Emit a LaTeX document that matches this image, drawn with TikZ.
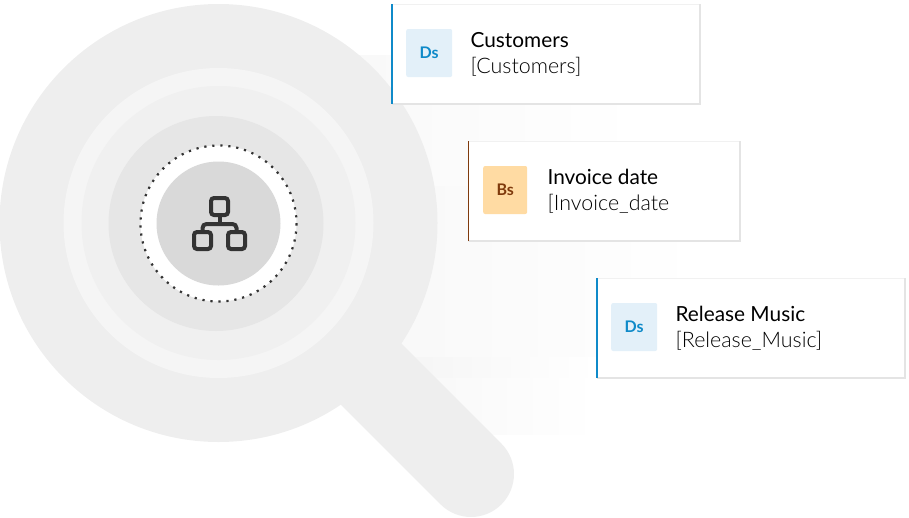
\documentclass[tikz,border=0pt]{standalone}
\usepackage{fontspec}
\setmainfont{Lato}
\newfontfamily\lightfont{Lato Light}
\usetikzlibrary{positioning}

\definecolor{lensgray}{HTML}{EEEEEE}
\definecolor{ringgray}{HTML}{F5F5F5}
\definecolor{bandgray}{HTML}{F0F0F0}
\definecolor{midgray}{HTML}{E6E6E6}
\definecolor{coregray}{HTML}{D9D9D9}
\definecolor{icongray}{HTML}{333333}
\definecolor{edgegray}{HTML}{F1F1F1}
\definecolor{shadegray}{HTML}{E4E4E4}
\definecolor{dsblue}{HTML}{0F8AC9}
\definecolor{dsfill}{HTML}{E3F0F9}
\definecolor{bsbrown}{HTML}{7F3A0C}
\definecolor{bsfill}{HTML}{FFDBA3}

\newcommand{\subline}[1]{{\fontsize{21.4}{26}\selectfont\lightfont #1}}

\begin{document}
\begin{tikzpicture}[x=1pt,y=-1pt,
    card/.style={fill=white,draw=edgegray,line width=1pt,inner sep=0pt,outer sep=0pt,minimum height=100pt,anchor=north west},
    badge/.style={rounded corners=2pt,inner sep=0pt,minimum height=48pt,yshift=1pt,font=\fontsize{16}{16}\selectfont\bfseries},
    ds/.style={badge,fill=dsfill,text=dsblue,minimum width=46pt},
    bs/.style={badge,fill=bsfill,text=bsbrown,minimum width=44pt},
    cardtext/.style={inner sep=0pt,align=left,yshift=-1.5pt,font=\fontsize{20.8}{26}\selectfont},
    iconbox/.style={draw=icongray,line width=4pt,rounded corners=3pt,inner sep=0pt,minimum size=17pt},
    iconline/.style={draw=icongray,line width=4pt},
    cardbar/.style={line width=1.8pt},
    cardedge/.style={draw=shadegray,line width=1.4pt},
    fade/.style={left color=#1,right color=white,draw=none}]

  \useasboundingbox (0,0) rectangle (909,517);

  % faint bands behind the cards
  \shade[fade=black!2.5] (345,55) rectangle (640,186);
  \shade[fade=black!3] (345,186) rectangle (700,357);
  \shade[fade=black!4] (400,357) rectangle (597,378);
  \shade[fade=black!3] (400,378) rectangle (597,434);

  % magnifying glass
  \coordinate (lens) at (218.5,223);
  \coordinate (grip) at (330,333);
  \coordinate (gripend) at (471,474);
  \draw[lensgray,line width=86pt,line cap=round] (grip) -- (gripend);
  \fill[lensgray] (lens) circle (219);
  \fill[ringgray] (lens) circle (155);
  \fill[bandgray] (lens) circle (137);
  \fill[midgray] (216,223.5) circle (107.5);
  \fill[white] (218.5,223.5) circle (78);
  \draw[icongray,line width=2.2pt,dash pattern=on 2.2pt off 5.83pt] (218.5,223.5) circle (78);
  \fill[coregray] (218.5,223.5) circle (62);

  % icon
  \node[iconbox] (icontop) at (219.5,206.5) {};
  \node[iconbox] (iconleft) at (202.5,240.5) {};
  \node[iconbox] (iconright) at (236.5,240.5) {};
  \coordinate (iconbus) at (219.5,224);
  \draw[iconline] (icontop.south) -- (iconbus);
  \draw[iconline,rounded corners=4pt] (iconleft.north) |- (iconbus) -| (iconright.north);

  % cards
  \node[card,minimum width=308pt] (customers) at (392,4) {};
  \node[ds,right=14pt of customers.west] (customersbadge) {Ds};
  \node[cardtext,right=18pt of customersbadge] (customerstext) {Customers\\\subline{[Customers]}};
  \draw[cardedge] (customers.north east) -- (customers.south east) -- (customers.south west);
  \draw[dsblue,cardbar] (customers.north west) -- (customers.south west);

  \node[card,minimum width=271.5pt] (invoice) at (468.5,141) {};
  \node[bs,right=14.5pt of invoice.west] (invoicebadge) {Bs};
  \node[cardtext,right=20pt of invoicebadge] (invoicetext) {Invoice date\\\subline{[Invoice\_date}};
  \draw[cardedge] (invoice.north east) -- (invoice.south east) -- (invoice.south west);
  \draw[bsbrown,cardbar] (invoice.north west) -- (invoice.south west);

  \node[card,minimum width=308pt] (release) at (597,278) {};
  \node[ds,right=14pt of release.west] (releasebadge) {Ds};
  \node[cardtext,right=18pt of releasebadge] (releasetext) {Release Music\\\subline{[Release\_Music]}};
  \draw[cardedge] (release.north east) -- (release.south east) -- (release.south west);
  \draw[dsblue,cardbar] (release.north west) -- (release.south west);

\end{tikzpicture}
\end{document}
